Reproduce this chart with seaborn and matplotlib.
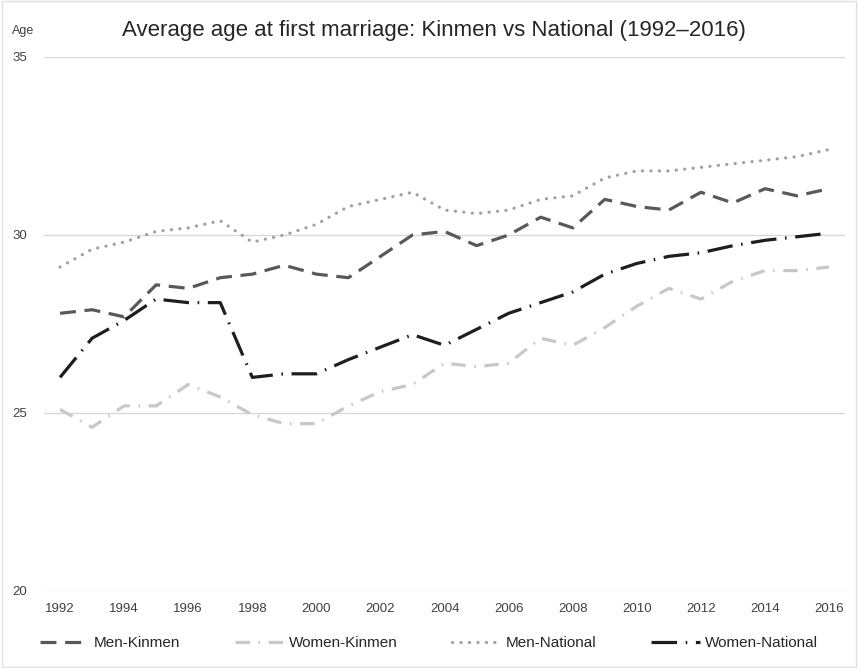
import numpy as np
import pandas as pd
import seaborn as sns
import matplotlib.pyplot as plt
from matplotlib.patches import Rectangle

sns.set_theme(style="white")
plt.rcParams['font.family'] = ['Liberation Sans', 'DejaVu Sans']

years = np.arange(1992, 2017)
men_kinmen = [27.8, 27.9, 27.7, 28.6, 28.5, 28.8, 28.9, 29.15, 28.9,
              28.8, 29.4, 30.0, 30.1, 29.7, 30.0, 30.5, 30.2, 31.0,
              30.8, 30.7, 31.2, 30.9, 31.3, 31.1, 31.3]
women_kinmen = [25.1, 24.6, 25.2, 25.2, 25.8, 25.45, 24.95, 24.7, 24.7,
                25.2, 25.6, 25.8, 26.4, 26.3, 26.4, 27.1, 26.9, 27.4,
                28.0, 28.5, 28.2, 28.7, 29.0, 29.0, 29.1]
men_national = [29.1, 29.6, 29.8, 30.1, 30.2, 30.4, 29.8, 30.0, 30.3,
                30.8, 31.0, 31.2, 30.7, 30.6, 30.7, 31.0, 31.1, 31.6,
                31.8, 31.8, 31.9, 32.0, 32.1, 32.2, 32.4]
women_national = [26.0, 27.1, 27.6, 28.2, 28.1, 28.1, 26.0, 26.1, 26.1,
                  26.5, 26.85, 27.2, 26.9, 27.35, 27.8, 28.1, 28.4, 28.9,
                  29.2, 29.4, 29.5, 29.7, 29.85, 29.95, 30.05]

fig = plt.figure(figsize=(8.58, 6.68), dpi=100)
ax = fig.add_axes([0.0513, 0.1153, 0.9337, 0.7994])

series = [
    ("Men-Kinmen", men_kinmen, "#595959", (0, (5, 2.7))),
    ("Women-Kinmen", women_kinmen, "#c8c8c8", (0, (4.5, 2.7, 0.5, 2.7))),
    ("Men-National", men_national, "#a0a0a0", (0, (0.05, 2.6))),
    ("Women-National", women_national, "#1e1e1e", (0, (8, 2.7, 0.5, 2.7))),
]
for name, vals, col, ls in series:
    sns.lineplot(x=years, y=vals, ax=ax, color=col, linewidth=2.3,
                 linestyle=ls, label=name)
# round dots for the dotted series
ax.lines[2].set_dash_capstyle('round')

ax.set_xlim(1991.5, 2016.5)
ax.set_ylim(20, 35)
ax.set_yticks([20, 25, 30, 35])
ax.set_xticks(np.arange(1992, 2017, 2))
ax.grid(axis='y', color='#d9d9d9', linewidth=1)
ax.grid(axis='x', visible=False)
for s in ax.spines.values():
    s.set_visible(False)
ax.tick_params(axis='both', length=0, labelsize=9.5, colors='#404040')
ax.tick_params(axis='y', pad=12)
ax.tick_params(axis='x', pad=9)
ax.set_xlabel('')
ax.set_ylabel('')

fig.text(0.014, 0.953, 'Age', fontsize=9, color='#404040', ha='left', va='center')
fig.text(0.506, 0.955, 'Average age at first marriage: Kinmen vs National (1992\u20132016)',
         fontsize=16, color='#262626', ha='center', va='center')

leg = ax.legend(loc='center', ncol=4, frameon=False, fontsize=11, handlelength=3.2,
                handletextpad=0.3, columnspacing=3.6)
leg.set_bbox_to_anchor((0.0, 0.0, 1.0, 0.075), transform=fig.transFigure)
for t in leg.get_texts():
    t.set_color('#262626')

fig.patches.append(Rectangle((0.002, 0.002), 0.996, 0.996, transform=fig.transFigure,
                             fill=False, edgecolor='#e0e0e0', linewidth=1))

fig.savefig('out.png', dpi=100)
